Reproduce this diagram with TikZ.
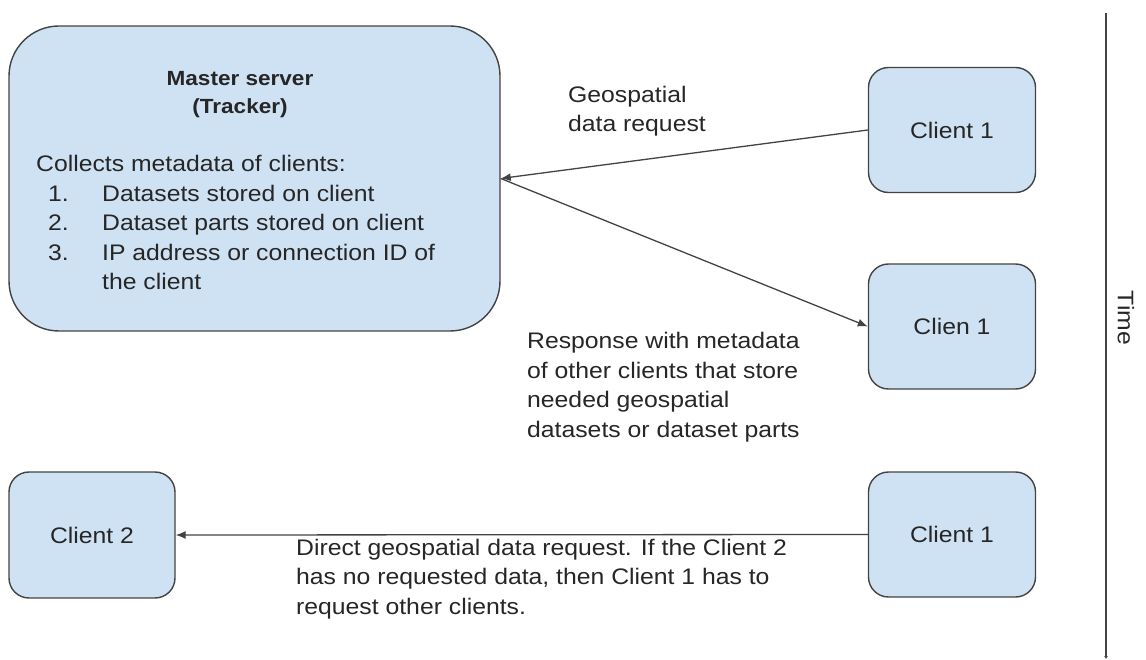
\documentclass[tikz,border=0pt]{standalone}
\usepackage{fontspec}
\setmainfont{Liberation Sans}[FakeStretch=1.1]
\usetikzlibrary{arrows.meta}
\definecolor{boxblue}{HTML}{CFE2F3}
\definecolor{linegray}{HTML}{434343}

\begin{document}
\begin{tikzpicture}[x=1pt,y=-1pt]
\tikzstyle{every node}=[font=\fontsize{22.5}{29.5}\selectfont, text=black!85]
\tikzstyle{box}=[draw=linegray, line width=1.4pt, fill=boxblue, rounded corners=20pt, inner sep=0pt]
\tikzstyle{msg}=[draw=linegray, line width=1.3pt, -{Latex[length=10pt,width=8pt]}]
\tikzstyle{note}=[anchor=base west, align=left, inner sep=0pt]

\useasboundingbox (0,0) rectangle (1146,660);

% server and clients
\node[box, rounded corners=50pt, minimum width=491pt, minimum height=305pt] (master) at (254.5,178.5) {};
\node[box, minimum width=167pt, minimum height=125pt] (clientA) at (952,130) {Client 1};
\node[box, minimum width=167pt, minimum height=125pt] (clientB) at (952,326.5) {Clien 1};
\node[box, minimum width=167pt, minimum height=125pt] (clientC) at (952,534.5) {Client 1};
\node[box, minimum width=166pt, minimum height=126pt] (clientTwo) at (92,535) {Client 2};

% text of the server (base = last line)
\node[font=\fontsize{20.5}{28}\selectfont\bfseries, align=center, anchor=base] (title) at (240,114) {Master server\\(Tracker)};
\node[note] (meta) at (36,290) {Collects metadata of clients:\\
  \hspace*{12pt}\makebox[54pt][l]{1.}Datasets stored on client\\
  \hspace*{12pt}\makebox[54pt][l]{2.}Dataset parts stored on client\\
  \hspace*{12pt}\makebox[54pt][l]{3.}IP address or connection ID of\\
  \hspace*{66pt}the client};

% messages
\draw[msg] (clientA.west) -- (master.east);
\draw[msg] (master.east) -- (clientB.west);
\draw[msg] (clientC.west) -- (clientTwo.east);

\node[note] (reqLabel) at (568,132) {Geospatial\\data request};
\node[note] (respLabel) at (527,437) {Response with metadata\\of other clients that store\\needed geospatial\\datasets or dataset parts};
\node[note] (directLabel) at (296,614) {Direct geospatial data request. If the Client 2\\has no requested data, then Client 1 has to\\request other clients.};

% time axis
\coordinate (timeTop) at (1106,13);
\coordinate (timeEnd) at (1106,659);
\draw[linegray, line width=1.3pt, -{Latex[length=3pt,width=4pt]}] (timeTop) -- (timeEnd);
\node[rotate=-90] (timeLabel) at (1126,318) {Time};

\end{tikzpicture}
\end{document}
